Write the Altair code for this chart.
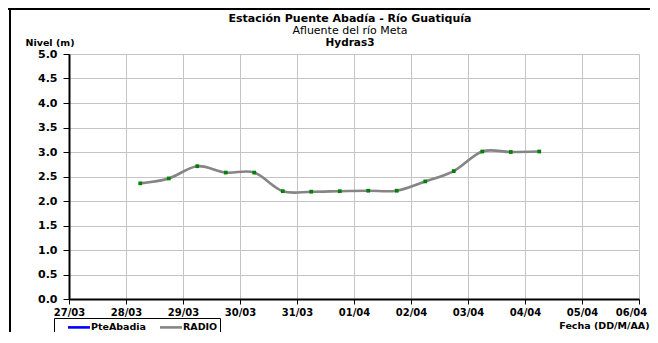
import altair as alt
import pandas as pd

# ---- data ----
fechas = [
    "2012-03-28 06:00", "2012-03-28 18:00",
    "2012-03-29 06:00", "2012-03-29 18:00",
    "2012-03-30 06:00", "2012-03-30 18:00",
    "2012-03-31 06:00", "2012-03-31 18:00",
    "2012-04-01 06:00", "2012-04-01 18:00",
    "2012-04-02 06:00", "2012-04-02 18:00",
    "2012-04-03 06:00", "2012-04-03 18:00",
    "2012-04-04 06:00",
]
nivel_radio = [2.36, 2.46, 2.71, 2.58, 2.58, 2.20, 2.19, 2.20,
               2.21, 2.21, 2.40, 2.61, 3.01, 3.00, 3.01]
series = ["PteAbadia", "RADIO"]
series_colores = ["#0000ff", "#858585"]
dias_eje = ["2012-03-27", "2012-03-28", "2012-03-29", "2012-03-30", "2012-03-31",
            "2012-04-01", "2012-04-02", "2012-04-03", "2012-04-04", "2012-04-05",
            "2012-04-06"]
niveles_eje = [0.0, 0.5, 1.0, 1.5, 2.0, 2.5, 3.0, 3.5, 4.0, 4.5, 5.0]
titulos = ["Estación Puente Abadía  - Río Guatiquía", "Afluente del río Meta", "Hydras3"]
titulo_y = "Nivel (m)"
titulo_x = "Fecha (DD/M/AA)"


def ms(s):
    return int(pd.Timestamp(s, tz="UTC").value // 10**6)


df = pd.DataFrame({
    "t": [ms(f) for f in fechas],
    "nivel": nivel_radio,
    "serie": ["RADIO"] * len(fechas),
})
ticks_x = [ms(d) for d in dias_eje]

FONT = "DejaVu Sans"
W, H = 570, 245

x_axis = alt.Axis(
    values=ticks_x,
    labelExpr="utcFormat(datum.value, '%d/%m')",
    labelOffset={"condition": {"test": f"time(datum.value) >= {ticks_x[-1]}", "value": -8},
                 "value": 0},
    title=titulo_x,
    titleAnchor="end",
    titleAlign="right",
    titleBaseline="alphabetic",
    titleX=580,
    titleY=29,
    titleFont=FONT, titleFontSize=9.5, titleFontWeight="bold", titleColor="black",
    labelFont=FONT, labelFontSize=10, labelFontWeight="bold", labelColor="black",
    labelPadding=3, labelFlush=False, labelOverlap=False,
    tickColor="black", tickSize=5, tickWidth=1,
    domainColor="black", domainWidth=2,
    grid=True, gridColor="#c4c4c4", gridWidth=1,
)
y_axis = alt.Axis(
    values=niveles_eje,
    tickCount=11,
    format=".1f",
    title=titulo_y,
    titleAngle=0,
    titleAlign="left",
    titleBaseline="alphabetic",
    titleX=-44,
    titleY=-9,
    titleFont=FONT, titleFontSize=9.5, titleFontWeight="bold", titleColor="black",
    labelFont=FONT, labelFontSize=11, labelFontWeight="bold", labelColor="black",
    labelPadding=6, labelFlush=False, labelOverlap=False,
    tickColor="black", tickSize=6, tickWidth=1,
    domainColor="black", domainWidth=2,
    grid=True, gridColor="#c4c4c4", gridWidth=1,
)
x_scale = alt.Scale(type="utc", domain=[ticks_x[0], ticks_x[-1]], nice=False)
y_scale = alt.Scale(domain=[0, 5], nice=False, zero=True)

linea = alt.Chart(df).mark_line(interpolate="cardinal", strokeWidth=2.6).encode(
    x=alt.X("t:T", scale=x_scale, axis=x_axis),
    y=alt.Y("nivel:Q", scale=y_scale, axis=y_axis),
    color=alt.Color(
        "serie:N",
        scale=alt.Scale(domain=series, range=series_colores),
        legend=alt.Legend(
            title=None,
            orient="none",
            legendX=-15,
            legendY=264,
            direction="horizontal",
            strokeColor="black",
            padding=2,
            symbolType="M-2,0H2",
            symbolSize=121,
            symbolStrokeWidth=2.6,
            symbolOffset=16,
            labelFont=FONT, labelFontSize=9.5, labelFontWeight="bold", labelColor="black",
            labelOffset=5,
            columnPadding=2,
        ),
    ),
)

puntos = alt.Chart(df).mark_point(filled=True, shape="square", size=14,
                                  color="#008000", opacity=1).encode(
    x=alt.X("t:T", scale=x_scale, axis=x_axis),
    y=alt.Y("nivel:Q", scale=y_scale, axis=y_axis),
)

tit_df = pd.DataFrame({"texto": titulos, "n": [0, 1, 2]})
t1 = alt.Chart(tit_df[tit_df.n == 0]).mark_text(
    font=FONT, fontSize=11, fontWeight="bold", color="black", align="center",
    baseline="alphabetic").encode(text="texto:N", x=alt.value(281), y=alt.value(-32))
t2 = alt.Chart(tit_df[tit_df.n == 1]).mark_text(
    font=FONT, fontSize=11, fontWeight="normal", color="black", align="center",
    baseline="alphabetic").encode(text="texto:N", x=alt.value(281), y=alt.value(-20))
t3 = alt.Chart(tit_df[tit_df.n == 2]).mark_text(
    font=FONT, fontSize=10.5, fontWeight="bold", color="black", align="center",
    baseline="alphabetic").encode(text="texto:N", x=alt.value(281), y=alt.value(-8))

marco_sup = alt.Chart(tit_df[tit_df.n == 0]).mark_rect(color="black").encode(
    x=alt.value(-62), x2=alt.value(600), y=alt.value(-46), y2=alt.value(-44))
marco_izq = alt.Chart(tit_df[tit_df.n == 0]).mark_rect(color="black").encode(
    x=alt.value(-60), x2=alt.value(-58), y=alt.value(-46), y2=alt.value(300))

chart = alt.layer(linea, puntos, t1, t2, t3, marco_sup, marco_izq).properties(
    width=W, height=H,
    padding={"left": 61, "top": 46, "right": 11, "bottom": 33},
    autosize=alt.AutoSizeParams(type="none"),
    background="white",
).configure_view(stroke="transparent")

chart.save("out.html", embed_options={"renderer": "svg", "actions": False})
